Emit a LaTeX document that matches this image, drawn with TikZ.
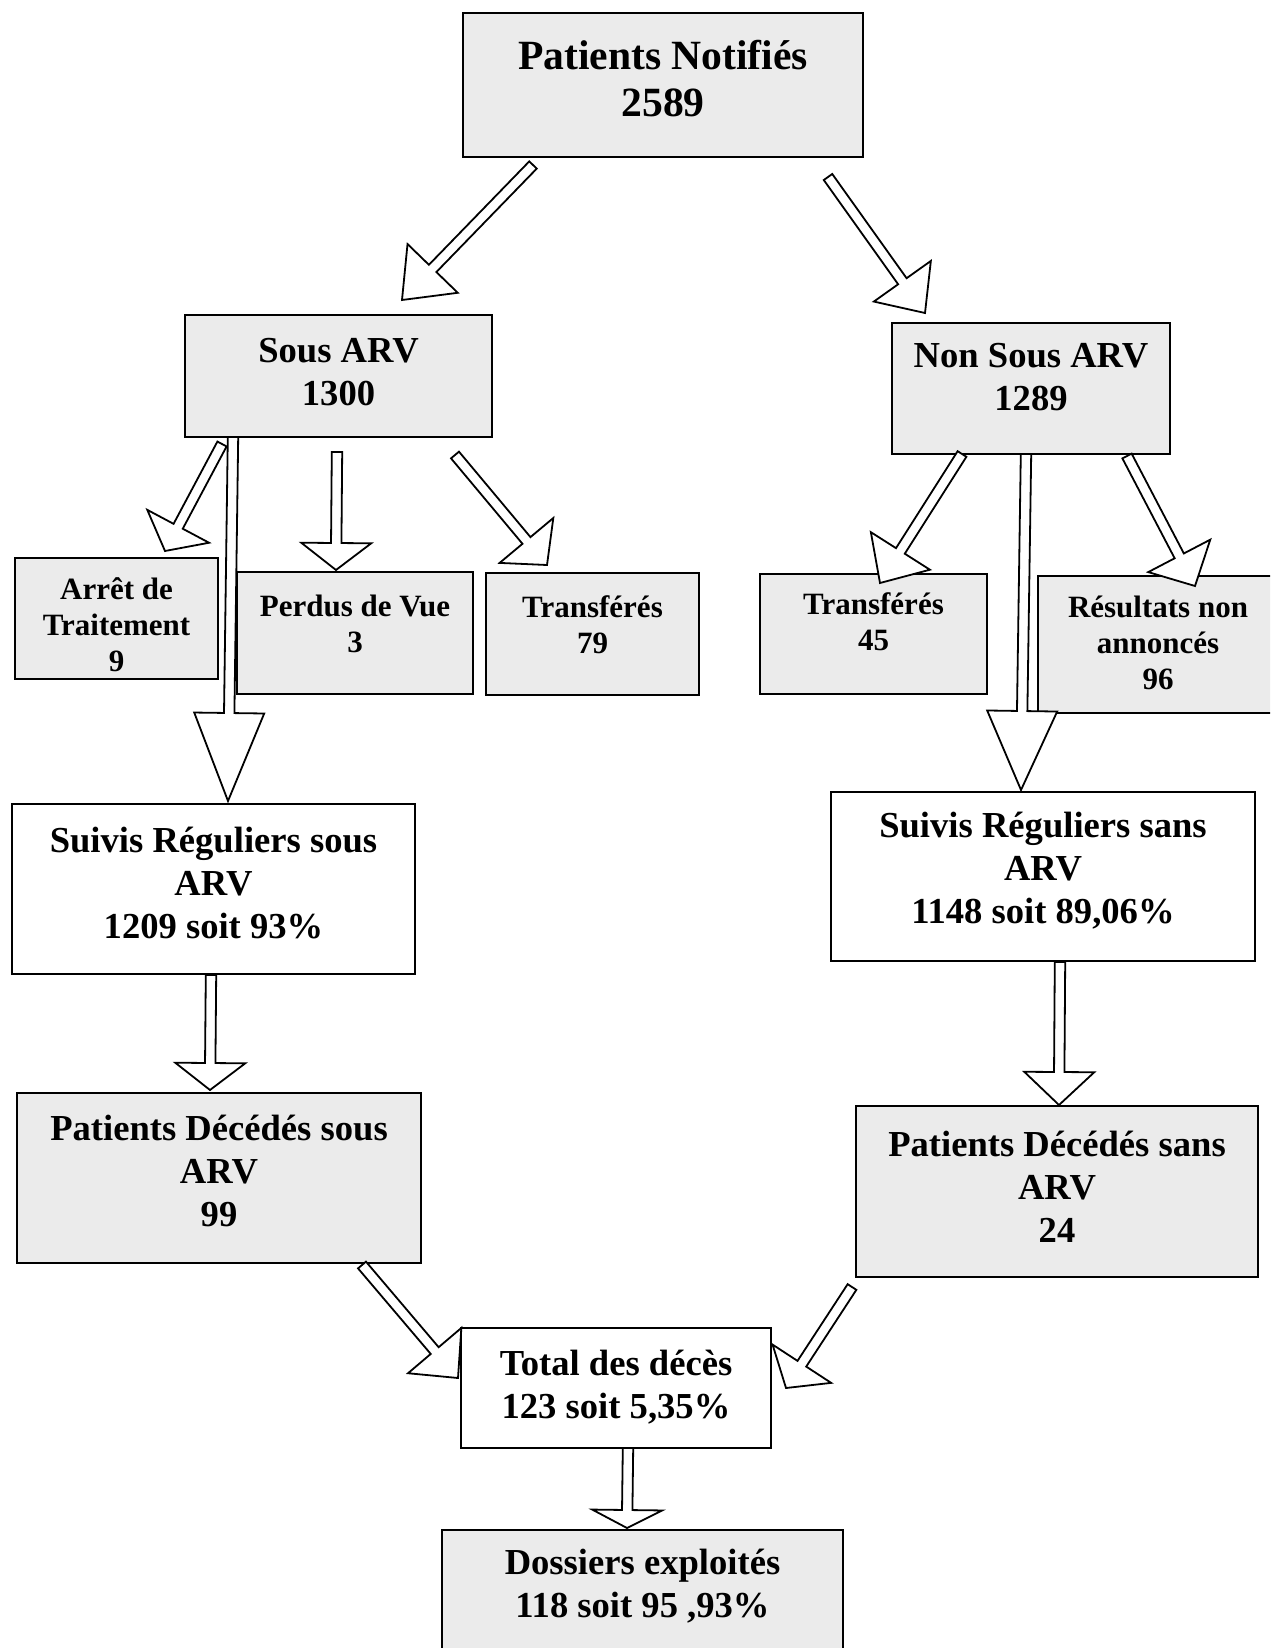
\documentclass[tikz,border=0pt]{standalone}
\usepackage{fontspec}
\setmainfont{Liberation Serif}
\usetikzlibrary{calc}
\newcommand\arrsw{2.6pt}
\newcommand\arrhw{17.5pt}
\newcommand\blockarr[3]{%
  \coordinate (ba-b) at ($(#2)!#3!(#1)$);
  \filldraw[blk] ($(#1)!\arrsw!90:(#2)$) -- ($(ba-b)!\arrsw!90:(#2)$) -- ($(ba-b)!\arrhw!90:(#2)$) -- (#2) -- ($(ba-b)!\arrhw!-90:(#2)$) -- ($(ba-b)!\arrsw!-90:(#2)$) -- ($(#1)!\arrsw!-90:(#2)$) -- cycle;}
\tikzset{
  box/.style={draw=black, line width=1.1pt, inner sep=0pt},
  shaded/.style={box, fill=black!8},
  plain/.style={box, fill=white},
  txt/.style={align=center, inner sep=0pt},
  topf/.style={txt, font=\fontsize{20.8}{23.5}\selectfont\bfseries},
  bigf/.style={txt, font=\fontsize{18.3}{21.5}\selectfont\bfseries},
  smallf/.style={txt, font=\fontsize{15.5}{18}\selectfont\bfseries},
  blk/.style={draw=black, fill=white, line width=0.9pt, line join=miter}
}
\begin{document}
\begin{tikzpicture}[x=0.5pt, y=-0.5pt]
\useasboundingbox (0,0) rectangle (1270,1648);
\clip (0,0) rectangle (1270,1648);
% boxes
\node[shaded, minimum width=200pt, minimum height=72pt] (pn) at (663,85) {};
\node[shaded, minimum width=153.5pt, minimum height=61pt] (sa) at (338.5,376) {};
\node[shaded, minimum width=139pt, minimum height=65.5pt] (nsa) at (1031,388.5) {};
\node[shaded, minimum width=101.5pt, minimum height=60.5pt] (arr) at (116.5,618.5) {};
\node[shaded, minimum width=118pt, minimum height=61pt] (pdv) at (355,633) {};
\node[shaded, minimum width=106.5pt, minimum height=61pt] (tra) at (592.5,634) {};
\node[shaded, minimum width=113.5pt, minimum height=60pt] (trb) at (873.5,634) {};
\node[shaded, minimum width=120pt, minimum height=68.5pt] (res) at (1158,644.5) {};
\node[plain, minimum width=201.5pt, minimum height=85pt] (ss) at (213.5,889) {};
\node[plain, minimum width=212pt, minimum height=84.5pt] (sn) at (1043,876.5) {};
\node[shaded, minimum width=202pt, minimum height=85pt] (ds) at (219,1178) {};
\node[shaded, minimum width=201pt, minimum height=85.5pt] (dn) at (1057,1191.5) {};
\node[plain, minimum width=155pt, minimum height=60pt] (tot) at (616,1388) {};
\node[shaded, minimum width=200.5pt, minimum height=65pt] (dos) at (642.5,1595) {};
% texts
\node[topf] (pn-t) at (663,79) {Patients Notifiés\\2589};
\node[bigf] (sa-t) at (338.5,372.5) {Sous ARV\\1300};
\node[bigf] (nsa-t) at (1031,377) {Non Sous ARV\\1289};
\node[smallf] (arr-t) at (116.5,625) {Arrêt de\\Traitement\\9};
\node[smallf] (pdv-t) at (355,624) {Perdus de Vue\\3};
\node[smallf] (tra-t) at (592.5,625) {Transférés\\79};
\node[smallf] (trb-t) at (873.5,622) {Transférés\\45};
\node[smallf] (res-t) at (1158,642.5) {Résultats non\\annoncés\\96};
\node[bigf] (ss-t) at (213.5,883) {Suivis Réguliers sous\\ARV\\1209 soit 93\%};
\node[bigf] (sn-t) at (1043,871) {Suivis Réguliers sans\\ARV\\1148 soit 89,06\%};
\node[bigf] (ds-t) at (219,1170.5) {Patients Décédés sous\\ARV\\99};
\node[bigf] (dn-t) at (1057,1186.5) {Patients Décédés sans\\ARV\\24};
\node[bigf] (tot-t) at (616,1387.5) {Total des décès\\123 soit 5,35\%};
\node[bigf] (dos-t) at (642.5,1586.5) {Dossiers exploités\\118 soit 95 ,93\%};
% arrow ends
\coordinate (a1s) at (533,165);  \coordinate (a1t) at (402,300);
\coordinate (a2s) at (828,177);  \coordinate (a2t) at (925,313);
\coordinate (a3s) at (222,444);  \coordinate (a3t) at (165,551);
\coordinate (a4s) at (233,437);  \coordinate (a4t) at (228,801);
\coordinate (a5s) at (337,452);  \coordinate (a5t) at (336,570);
\coordinate (a6s) at (455,455);  \coordinate (a6t) at (547,565);
\coordinate (a7s) at (962,454);  \coordinate (a7t) at (880,583);
\coordinate (a8s) at (1026,454); \coordinate (a8t) at (1021,790);
\coordinate (a9s) at (1127,456); \coordinate (a9t) at (1195,586);
\coordinate (a10s) at (211,975); \coordinate (a10t) at (210,1090);
\coordinate (a11s) at (1060,962); \coordinate (a11t) at (1059,1105);
\coordinate (a12s) at (362,1265); \coordinate (a12t) at (458,1378);
\coordinate (a13s) at (852,1287); \coordinate (a13t) at (786,1388);
\coordinate (a14s) at (628,1448); \coordinate (a14t) at (627,1528);
% block arrows
\blockarr{a1s}{a1t}{22pt}
\blockarr{a2s}{a2t}{19.5pt}
\blockarr{a3s}{a3t}{14pt}
\blockarr{a4s}{a4t}{44pt}
\blockarr{a5s}{a5t}{13.5pt}
\blockarr{a6s}{a6t}{16pt}
\blockarr{a7s}{a7t}{19pt}
\blockarr{a8s}{a8t}{39.5pt}
\blockarr{a9s}{a9t}{17pt}
\blockarr{a10s}{a10t}{13.5pt}
\blockarr{a11s}{a11t}{16.5pt}
\blockarr{a12s}{a12t}{18pt}
\blockarr{a13s}{a13t}{14.5pt}
\blockarr{a14s}{a14t}{9pt}
\end{tikzpicture}
\end{document}
